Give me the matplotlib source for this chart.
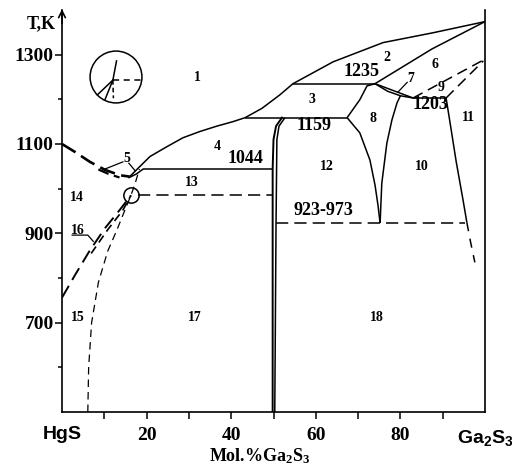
import matplotlib
matplotlib.use("Agg")
import matplotlib.pyplot as plt
from matplotlib.patches import Circle

plt.rcParams["mathtext.fontset"] = "custom"
plt.rcParams["mathtext.rm"] = "Liberation Serif:bold"
plt.rcParams["mathtext.it"] = "Liberation Serif:bold"
plt.rcParams["mathtext.bf"] = "Liberation Sans:bold"

SERIF = "Liberation Serif"

# ---- phase boundaries of the HgS - Ga2S3 system (mol.% Ga2S3, T in K) ----
# liquidus on the HgS side (dashed) down to the minimum
liq_left_x = [0, 3.1, 6.6, 10.2, 13.7, 16.0]
liq_left_T = [1100, 1082, 1060, 1042, 1030, 1027]
# short solidus segment under it
sol_left_x = [8.6, 11.0, 13.6]
sol_left_T = [1043, 1033, 1025]
# liquidus from the minimum to the Ga2S3 melting point
liq_x = [16.0, 17.7, 20.8, 24.8, 28.6, 32.6, 36.6, 40.4, 43.3, 47.3, 51.5, 54.6, 64.1, 75.9, 87.7, 100]
liq_T = [1027, 1043, 1072, 1094, 1114, 1128, 1140, 1150, 1159, 1180, 1210, 1235, 1284, 1327, 1349, 1374]
# solidus of the HgS based solid solution below the minimum
sol_right_x = [15.7, 17.6, 19.2]
sol_right_T = [1024, 1033, 1044]
# solvus of the HgS based solid solution
solvus_left_x = [6.1, 6.3, 7.0, 8.6, 10.8, 13.0, 15.0, 16.3, 17.3, 18.3]
solvus_left_T = [500, 600, 700, 790, 860, 908, 955, 985, 1012, 1044]
# polymorphic transition of HgS (double line)
trans_a_x = [0, 3.1, 6.6, 10.2, 13.7, 16.3]
trans_a_T = [756, 807, 862, 912, 953, 985]
trans_b_x = [6.9, 10.8, 14.4, 16.3]
trans_b_T = [855, 908, 952, 985]
# HgGa2S4 homogeneity range
cmp_left_x = [52.0, 50.6, 50.0, 49.8, 49.8]
cmp_left_T = [1159, 1140, 1110, 1044, 500]
cmp_right_x = [52.7, 51.3, 50.8, 50.6, 50.3]
cmp_right_T = [1159, 1140, 1110, 923, 500]
# boundaries around region 8
b8_left_x = [67.4, 70.4, 72.1, 74.0]
b8_left_T = [1159, 1199, 1230, 1235]
b8_low_x = [67.4, 70.4, 72.8, 74.0, 74.7, 75.2]
b8_low_T = [1159, 1125, 1064, 1008, 963, 923]
b10_left_x = [80.0, 79.2, 78.0, 76.8, 75.6, 75.2]
b10_left_T = [1208, 1192, 1154, 1102, 1012, 923]
# line from the 1235 K peritectic to the Ga2S3 melting point
b26_x = [74.0, 87.5, 100]
b26_T = [1235, 1313, 1374]
# lens 7
lens7_up_x = [74.0, 83.0]
lens7_up_T = [1235, 1203]
lens7_lo_x = [74.0, 77.0, 80.0, 83.0]
lens7_lo_T = [1235, 1218, 1208, 1203]
# Ga2S3 polymorphic transition (dashed)
tr9a_x = [83.0, 100]
tr9a_T = [1203, 1290]
tr9b_x = [90.8, 99.6]
tr9b_T = [1203, 1286]
# solvus of the Ga2S3 based solid solution
solvus_right_x = [90.8, 91.7, 93.2, 94.8, 95.7]
solvus_right_T = [1203, 1150, 1060, 975, 925]
solvus_right_ext_x = [95.7, 96.6, 97.6]
solvus_right_ext_T = [925, 880, 835]

# invariant horizontals: (T, x_start, x_end)
inv_T = [1044, 1159, 1235, 1203]
inv_x0 = [19.2, 43.3, 54.6, 83.0]
inv_x1 = [49.6, 67.4, 74.0, 90.8]
# dashed horizontals
eutectoid_T = 985
eutectoid_x = [18.0, 49.8]
range_T = 923
range_x = [50.6, 95.3]

# region numbers
reg_lab = [str(i) for i in range(1, 19)]
reg_x = [31.9, 76.8, 59.1, 36.6, 15.4, 88.2, 82.4, 73.5, 89.6, 85.1, 96.0, 62.6, 30.7, 3.5, 3.8, 3.8, 31.4, 74.4]
reg_T = [1249, 1293, 1199, 1094, 1068, 1278, 1246, 1158, 1226, 1049, 1159, 1049, 1014, 980, 712, 906, 712, 712]

# temperature labels
tlab = ["1044", "1159", "1235", "1203", "923-973"]
tlab_x = [43.4, 59.6, 70.9, 87.0, 61.7]
tlab_T = [1067, 1141, 1262, 1188, 951]

x_ticks = [10, 20, 30, 40, 50, 60, 70, 80, 90]
x_ticklabels = ["", "20", "", "40", "", "60", "", "80", ""]
y_major = [700, 900, 1100, 1300]
y_minor = [600, 800, 1000, 1200]

fig = plt.figure(figsize=(5.12, 4.68), dpi=100)
ax = fig.add_axes([62 / 512, 1 - 412 / 468, 423 / 512, 402 / 468])
ax.set_xlim(0, 100)
ax.set_ylim(500, 1400)

K = "black"
solid = dict(color=K, lw=1.1, solid_capstyle="butt")

ax.plot(liq_left_x, liq_left_T, color=K, lw=1.9, dashes=(6, 2.5))
ax.plot(sol_left_x, sol_left_T, color=K, lw=1.6, dashes=(5, 2.5))
ax.plot(liq_x, liq_T, **solid)
ax.plot(sol_right_x, sol_right_T, **solid)
ax.plot(solvus_left_x, solvus_left_T, color=K, lw=0.9, dashes=(6, 4))
ax.plot(trans_a_x, trans_a_T, color=K, lw=1.4, dashes=(7, 3.5))
ax.plot(trans_b_x, trans_b_T, color=K, lw=1.2, dashes=(5, 3))
ax.plot(cmp_left_x, cmp_left_T, color=K, lw=1.4)
ax.plot(cmp_right_x, cmp_right_T, **solid)
ax.plot(b8_left_x, b8_left_T, **solid)
ax.plot(b8_low_x, b8_low_T, **solid)
ax.plot(b10_left_x, b10_left_T, **solid)
ax.plot(b26_x, b26_T, **solid)
ax.plot(lens7_up_x, lens7_up_T, **solid)
ax.plot(lens7_lo_x, lens7_lo_T, **solid)
ax.plot(tr9a_x, tr9a_T, color=K, lw=1.1, dashes=(7, 4))
ax.plot(tr9b_x, tr9b_T, color=K, lw=1.1, dashes=(7, 4))
ax.plot(solvus_right_x, solvus_right_T, **solid)
ax.plot(solvus_right_ext_x, solvus_right_ext_T, color=K, lw=1.1, dashes=(6, 5))

for T, a, b in zip(inv_T, inv_x0, inv_x1):
    ax.plot([a, b], [T, T], **solid)
ax.plot(eutectoid_x, [eutectoid_T] * 2, color=K, lw=1.1, dashes=(8, 4))
ax.plot(range_x, [range_T] * 2, color=K, lw=1.1, dashes=(8, 4))

# triple point marker on the HgS side
ax.plot([16.3], [eutectoid_T], marker="o", ms=11, mfc="none", mec=K, mew=1.1)

# leaders for regions 5, 7 and 16
ax.plot([14.4, 9.9], [1060, 1043], color=K, lw=0.9)
ax.plot([15.8, 17.3], [1057, 1040], color=K, lw=0.9)
ax.plot([81.6, 79.4], [1238, 1216], color=K, lw=0.9)
ax.plot([2.4, 6.1, 7.4], [896, 896, 882], color=K, lw=0.9)

tkw = dict(family=SERIF, weight="bold", ha="center", va="center")
for s, x, T in zip(reg_lab, reg_x, reg_T):
    ax.text(x, T, s, fontsize=10, **tkw)
for s, x, T in zip(tlab, tlab_x, tlab_T):
    ax.text(x, T, s, fontsize=13, **tkw)

# axes styling
for side in ("left", "bottom", "right"):
    ax.spines[side].set_linewidth(1.2)
ax.spines["top"].set_visible(False)
ax.annotate("", xy=(0, 1402), xytext=(0, 1370), annotation_clip=False,
            arrowprops=dict(arrowstyle="->", lw=1.2, color=K, mutation_scale=12,
                            shrinkA=0, shrinkB=0))

ax.set_xticks(x_ticks)
ax.set_xticklabels(x_ticklabels, family=SERIF, weight="bold", fontsize=14)
ax.tick_params(axis="x", direction="out", length=5, width=1.1, pad=6)
ax.set_yticks(y_major)
ax.set_yticklabels([str(v) for v in y_major], family=SERIF, weight="bold", fontsize=14)
ax.set_yticks(y_minor, minor=True)
ax.tick_params(axis="y", which="major", direction="out", length=5, width=1.1, pad=1)
ax.tick_params(axis="y", which="minor", direction="out", length=3, width=1.1)

ax.text(-1.6, 1370, "T,K", family=SERIF, weight="bold", fontsize=13,
        ha="right", va="center", clip_on=False)
ax.text(0, 449, "HgS", family="Liberation Sans", weight="bold", fontsize=14,
        ha="center", va="center", clip_on=False)
ax.text(100, 441, r"$\mathbf{Ga_2S_3}$", fontsize=14, ha="center", va="center", clip_on=False)
ax.text(46.8, 402, r"Mol.%$\mathrm{Ga_2S_3}$", family=SERIF, weight="bold", fontsize=13,
        ha="center", va="center", clip_on=False)

# phase-transition symbol in the upper left
sym = fig.add_axes([(116 - 28) / 512, 1 - (77 + 28) / 468, 56 / 512, 56 / 468])
sym.set_xlim(-1.08, 1.08)
sym.set_ylim(-1.08, 1.08)
sym.set_aspect("equal")
sym.axis("off")
sym.add_patch(Circle((0, 0), 1.0, fill=False, lw=1.1, ec=K))
jx, jy = -0.12, -0.12
sym.plot([jx, 0.02], [jy, 0.62], color=K, lw=1.1)
sym.plot([jx, 1.0], [jy, jy], color=K, lw=1.1, dashes=(4, 3))
sym.plot([jx, -0.72], [jy, -0.69], color=K, lw=1.1)
sym.plot([jx, -0.42], [jy, -0.86], color=K, lw=1.1)
sym.plot([jx, -0.1], [jy, -0.82], color=K, lw=1.1, dashes=(3, 2))

fig.savefig("out.png", dpi=100)
